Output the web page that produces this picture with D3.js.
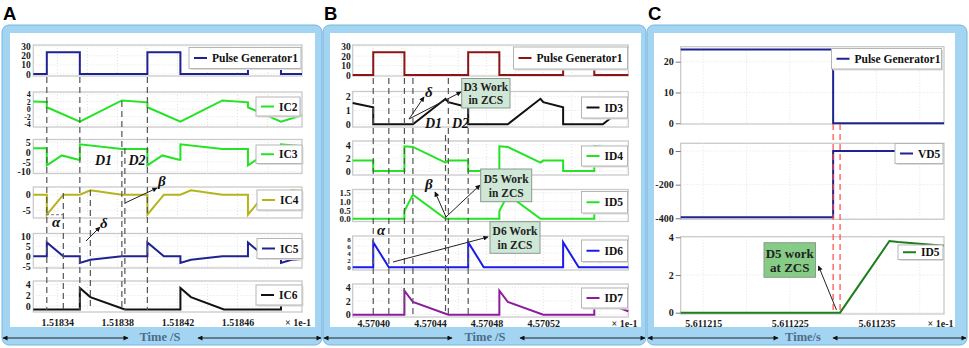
<!DOCTYPE html>
<html>
<head>
<meta charset="utf-8">
<script src="https://cdnjs.cloudflare.com/ajax/libs/d3/7.8.5/d3.min.js"></script>
<style>
  body { margin: 0; background: #fff; }
  svg { display: block; }
</style>
</head>
<body>
<div id="chart"></div>
<script>
// Time values are in units of 1e-1 s (axis shows "x 1e-1")

// ---- Panel A : capacitor currents ----
const ticksA = [1.51834, 1.51838, 1.51842, 1.51846];
const pulseA = [[1.518324,0],[1.518333,0],[1.518333,24],[1.518355,24],[1.518355,0],[1.5184,0],[1.5184,24],
  [1.518422,24],[1.518422,0],[1.518467,0],[1.518467,24],[1.518489,24],[1.518489,0],[1.518503,0]];
const ic2 = [[1.518324,2.0],[1.518333,1.9],[1.518333,0.5],[1.518355,-3.3],[1.518383,2.3],[1.5184,1.8],[1.5184,0.5],
  [1.518422,-3.3],[1.51845,2.3],[1.518467,1.8],[1.518467,0.5],[1.518489,-3.3],[1.518503,-1.6]];
const ic3 = [[1.518324,2.0],[1.518333,2.0],[1.518333,-6.8],[1.518343,-1.7],[1.518354,-3.9],[1.518355,-3.9],[1.518355,4.0],
  [1.518383,1.6],[1.5184,1.6],[1.5184,-6.8],[1.51841,-1.7],[1.518421,-3.9],[1.518422,-3.9],[1.518422,4.0],
  [1.51845,1.6],[1.518467,1.6],[1.518467,-6.8],[1.518477,-1.7],[1.518488,-3.9],[1.518489,-3.9],[1.518489,4.0],[1.518503,3.0]];
const ic4 = [[1.518324,0],[1.518333,0],[1.518333,-6.4],[1.518344,0],[1.518355,0],[1.518362,1.4],[1.518383,0],
  [1.5184,0],[1.5184,-6.4],[1.518411,0],[1.518422,0],[1.518429,1.4],[1.51845,0],
  [1.518467,0],[1.518467,-6.4],[1.518478,0],[1.518489,0],[1.518496,1.4],[1.518503,1.2]];
const ic5 = [[1.518324,0],[1.518333,0],[1.518333,6.9],[1.518344,0],[1.518355,0],[1.518355,-3.3],[1.518362,-1.7],[1.518383,0],
  [1.5184,0],[1.5184,6.9],[1.518411,0],[1.518422,0],[1.518422,-3.3],[1.518429,-1.7],[1.51845,0],
  [1.518467,0],[1.518467,6.9],[1.518478,0],[1.518489,0],[1.518489,-3.3],[1.518496,-1.7],[1.518503,-1.4]];
const ic6 = [[1.518324,-0.6],[1.518355,-0.6],[1.518355,3.4],[1.518362,1.7],[1.518385,-0.6],
  [1.518422,-0.6],[1.518422,3.4],[1.518429,1.7],[1.518451,-0.6],
  [1.518489,-0.6],[1.518489,3.4],[1.518496,1.7],[1.518503,1.2]];

// ---- Panel B : diode currents ----
const ticksB = [4.5704, 4.57044, 4.57048, 4.57052];
const pulseB = [[4.5703855,0],[4.5704,0],[4.5704,24],[4.570422,24],[4.570422,0],[4.570467,0],[4.570467,24],
  [4.570489,24],[4.570489,0],[4.570534,0],[4.570534,24],[4.570556,24],[4.570556,0],[4.57058,0]];
const id3 = [[4.5703855,1.55],[4.5704,1.23],[4.5704,0],[4.570428,0],[4.570451,1.85],[4.570453,1.6],[4.570467,1.23],[4.570467,0],
  [4.570495,0],[4.570518,1.85],[4.57052,1.6],[4.570534,1.23],[4.570534,0],[4.570562,0],[4.57058,1.45]];
const id4 = [[4.5703855,1.6],[4.5704,1.6],[4.5704,0],[4.570422,0],[4.570422,3.8],[4.570428,3.7],[4.570451,1.3],[4.570453,1.6],
  [4.570467,1.6],[4.570467,0],[4.570489,0],[4.570489,3.8],[4.570495,3.7],[4.570518,1.3],[4.57052,1.6],
  [4.570534,1.6],[4.570534,0],[4.570556,0],[4.570556,3.8],[4.57058,3.4]];
const id5 = [[4.5703855,0],[4.570422,0],[4.570422,0.45],[4.570428,1.4],[4.570451,0],[4.570489,0],[4.570489,0.45],
  [4.570495,1.4],[4.570518,0],[4.570556,0],[4.570556,0.45],[4.570562,1.4],[4.57058,0.3]];
const id6 = [[4.5703855,0],[4.5704,0],[4.5704,7.1],[4.570411,0],[4.570467,0],[4.570467,7.1],[4.570478,0],
  [4.570534,0],[4.570534,7.1],[4.570545,0],[4.57058,0]];
const id7 = [[4.5703855,0],[4.570422,0],[4.570422,3.5],[4.570428,1.85],[4.570453,0],[4.570489,0],[4.570489,3.5],
  [4.570495,1.85],[4.57052,0],[4.570556,0],[4.570556,3.5],[4.570562,1.85],[4.57058,0.5]];

// ---- Panel C : D5 turn-on detail ----
const ticksC = [5.611215, 5.611225, 5.611235];
const pulseC = [[5.6112124,24],[5.61123,24],[5.61123,0],[5.6112428,0]];
const vd5 = [[5.6112124,-394],[5.61123,-394],[5.61123,0],[5.6112428,0]];
const id5c = [[5.6112124,0],[5.6112308,0],[5.6112365,3.8],[5.6112375,3.75],[5.6112428,3.55]];

// y tick labels
const pulseTicks = [0, 10, 20, 30];
const ic2Ticks = [-4, -2, 0, 2, 4];
const ic3Ticks = [-10, -5, 0, 5];
const ic4Ticks = [-5, 0];
const ic5Ticks = [-5, 0, 5, 10];
const ic6Ticks = [0, 2, 4];
const id3Ticks = [0, 1, 2];
const id4Ticks = [0, 2, 4];
const id5Ticks = [0, 0.5, 1, 1.5];
const id6Ticks = [0, 2, 4, 6, 8];
const id7Ticks = [0, 2, 4];
const pulseCTicks = [0, 10, 20];
const vd5Ticks = [-400, -200, 0];
const id5cTicks = [0, 2, 4];

// ---------------- setup ----------------
const svgWidth = 969;
const svgHeight = 348;
const serif = "'Liberation Serif', 'Times New Roman', serif";
const navy = "#1f2391";
const green = "#24e324";

const svg = d3.select("#chart")
    .append("svg")
    .attr("width", svgWidth)
    .attr("height", svgHeight);

const defs = svg.append("defs");
defs.append("marker")
    .attr("id", "arr")
    .attr("viewBox", "0 0 10 10")
    .attr("refX", 9).attr("refY", 5)
    .attr("markerWidth", 7).attr("markerHeight", 5)
    .attr("markerUnits", "userSpaceOnUse")
    .attr("orient", "auto-start-reverse")
  .append("path")
    .attr("d", "M0,0L10,5L0,10z")
    .attr("fill", "#111");

const panels = [
  {
    letter: "A", frame: [2, 322], inner: [10, 315], plotX: [33.3, 302],
    xDomain: [1.518324, 1.518503], xTicks: ticksA, xFmt: d3.format(".5f"), xBase: 325.5,
    grid: d3.range(1.51834, 1.5185, 0.00002), tickLen: 0, tickPad: 2.5,
    unitX: 285, timeLabel: "Time /S", timeX: 160, arrows: [[3, 128], [198, 321]],
    plots: [
      {data: pulseA, name: "Pulse Generator1", color: navy, box: [45, 76], yDomain: [-2.2, 31.9], yTicks: pulseTicks, tickFont: 9.5, legend: [189, 47.5, 112, 21]},
      {data: ic2, name: "IC2", color: green, box: [92, 127], yDomain: [-4.7, 4.53], yTicks: ic2Ticks, tickFont: 8, legend: [256, 97, 44, 19]},
      {data: ic3, name: "IC3", color: green, box: [139.5, 173.5], yDomain: [-10.92, 6.43], yTicks: ic3Ticks, legend: [256, 145, 46, 18.5]},
      {data: ic4, name: "IC4", color: "#b4b41c", box: [187, 218], yDomain: [-7.47, 2.47], yTicks: ic4Ticks, legend: [257, 190, 45, 20]},
      {data: ic5, name: "IC5", color: navy, box: [233.5, 268], yDomain: [-5.85, 11.4], yTicks: ic5Ticks, legend: [257, 238.5, 45, 20]},
      {data: ic6, name: "IC6", color: "#111", box: [281, 312], yDomain: [-1.06, 4.69], yTicks: ic6Ticks, legend: [256, 285, 46, 20]}
    ],
    dashes: [
      {t: 1.518333, y0: 77, y1: 310}, {t: 1.518355, y0: 77, y1: 310}, {t: 1.5184, y0: 77, y1: 310},
      {t: 1.518344, y0: 193, y1: 310}, {t: 1.518362, y0: 190, y1: 310},
      {t: 1.518383, y0: 101, y1: 310}, {t: 1.518385, y0: 148, y1: 310}
    ],
    dashColor: "#555",
    labels: [
      {t: "D1", x: 95, y: 165, s: 14}, {t: "D2", x: 128.5, y: 165, s: 14},
      {t: "α", x: 52, y: 227, s: 15}, {t: "β", x: 158, y: 186, s: 15}, {t: "δ", x: 100, y: 228, s: 15}
    ],
    pointers: [[125, 203, 157, 188], [86, 241, 100, 227]],
    hdash: [[46, 214.7, 63.3, 214.7]],
    boxes: []
  },
  {
    letter: "B", frame: [323, 646], inner: [330, 641], plotX: [352.7, 628.3],
    xDomain: [4.5703855, 4.57058], xTicks: ticksB, xFmt: d3.format(".5f"), xBase: 326.5,
    grid: d3.range(4.5704, 4.57058, 0.00002), tickLen: 0, tickPad: 2,
    unitX: 611.5, timeLabel: "Time /S", timeX: 485, arrows: [[324, 452], [520, 645]],
    plots: [
      {data: pulseB, name: "Pulse Generator1", color: "#8c1414", box: [45, 76], yDomain: [-1.06, 31.8], yTicks: pulseTicks, tickFont: 9.5, legend: [513.5, 47, 114, 22]},
      {data: id3, name: "ID3", color: "#111", box: [91.5, 127], yDomain: [-0.2, 2.38], yTicks: id3Ticks, legend: [581.5, 97, 46, 21]},
      {data: id4, name: "ID4", color: green, box: [141, 175], yDomain: [-0.62, 4.62], yTicks: id4Ticks, legend: [581.5, 146, 46, 20]},
      {data: id5, name: "ID5", color: green, box: [189.5, 221.5], yDomain: [-0.16, 1.7], yTicks: id5Ticks, tickFont: 9, fmt: d3.format(".1f"), legend: [581.5, 191.5, 46, 21.5]},
      {data: id6, name: "ID6", color: "#1a1aee", box: [236, 270], yDomain: [-0.76, 8.85], yTicks: id6Ticks, tickFont: 7, legend: [581.5, 240, 46, 21.5]},
      {data: id7, name: "ID7", color: "#8c1c9c", box: [284, 317], yDomain: [-0.34, 4.48], yTicks: id7Ticks, legend: [581.5, 288, 46, 20]}
    ],
    dashes: [
      {t: 4.5704, y0: 78, y1: 315}, {t: 4.570411, y0: 78, y1: 315}, {t: 4.570422, y0: 78, y1: 315},
      {t: 4.570428, y0: 78, y1: 315}, {t: 4.570451, y0: 135, y1: 315}, {t: 4.570453, y0: 78, y1: 315},
      {t: 4.570467, y0: 78, y1: 315}
    ],
    dashColor: "#555",
    labels: [
      {t: "D1", x: 425, y: 128, s: 14}, {t: "D2", x: 452, y: 128, s: 14},
      {t: "δ", x: 425, y: 97, s: 15}, {t: "β", x: 425, y: 189, s: 15}, {t: "α", x: 377, y: 235, s: 15}
    ],
    pointers: [[409, 119, 424, 97], [409, 119, 461, 92], [446, 217, 435, 192], [446, 217, 480, 185], [393, 262, 488, 237]],
    hdash: [],
    boxes: [
      {x: 461.7, y: 78.5, w: 48.3, h: 29.5, lines: ["D3 Work", "in ZCS"], fill: "#cfe7d6", size: 11.5},
      {x: 480.7, y: 169, w: 51, h: 32.7, lines: ["D5 Work", "in ZCS"], fill: "#cfe7d6", size: 11.5},
      {x: 490, y: 221.7, w: 50, h: 31.6, lines: ["D6 Work", "in ZCS"], fill: "#cfe7d6", size: 11.5}
    ]
  },
  {
    letter: "C", frame: [647, 967], inner: [654, 955], plotX: [680.7, 944],
    xDomain: [5.6112124, 5.6112428], xTicks: ticksC, xFmt: d3.format(".6f"), xBase: 326.5,
    grid: d3.range(5.611215, 5.611243, 0.000005), tickLen: 5, tickPad: 2,
    unitX: 927.5, timeLabel: "Time/s", timeX: 803, arrows: [[648, 778], [833, 966]],
    plots: [
      {data: pulseC, name: "Pulse Generator1", color: navy, box: [46.7, 124], yDomain: [-0.23, 24.87], yTicks: pulseCTicks, legend: [831.5, 48.5, 110, 20.5]},
      {data: vd5, name: "VD5", color: navy, box: [143.3, 219.3], yDomain: [-406, 45.8], yTicks: vd5Ticks, legend: [895, 143.5, 48, 20]},
      {data: id5c, name: "ID5", color: "#1e7d1e", box: [236.7, 314], yDomain: [-0.07, 4.03], yTicks: id5cTicks, legend: [898, 245, 45, 14.5]}
    ],
    dashes: [{t: 5.61123, y0: 124, y1: 312}, {t: 5.6112308, y0: 124, y1: 312}],
    dashColor: "#ff4a4a",
    labels: [],
    pointers: [[836.5, 310, 818.5, 266]],
    hdash: [],
    boxes: [
      {x: 764, y: 242.7, w: 51.5, h: 34.6, lines: ["D5 work", "at ZCS"], fill: "#86cc86", size: 13}
    ]
  }
];

function drawPanel(p) {
  const g = svg.append("g");

  // blue frame with white drawing area
  g.append("rect")
      .attr("x", p.frame[0]).attr("y", 25)
      .attr("width", p.frame[1] - p.frame[0]).attr("height", 320)
      .attr("rx", 7)
      .attr("fill", "#a3d5f3")
      .attr("stroke", "#78b6e0");
  g.append("rect")
      .attr("x", p.inner[0]).attr("y", 33)
      .attr("width", p.inner[1] - p.inner[0]).attr("height", 294)
      .attr("fill", "#fff");
  g.append("text")
      .attr("x", p.frame[0] + 1).attr("y", 20)
      .attr("font-family", "'Liberation Sans', Arial, sans-serif")
      .attr("font-weight", "bold")
      .attr("font-size", 18.5)
      .text(p.letter);

  const x = d3.scaleLinear().domain(p.xDomain).range(p.plotX);

  const plotLayer = g.append("g");
  const dashLayer = g.append("g");
  const topLayer = g.append("g");

  p.plots.forEach(s => {
    const y = d3.scaleLinear().domain(s.yDomain).range([s.box[1], s.box[0]]);
    const pg = plotLayer.append("g");

    pg.append("rect")
        .attr("x", p.plotX[0]).attr("y", s.box[0])
        .attr("width", p.plotX[1] - p.plotX[0]).attr("height", s.box[1] - s.box[0])
        .attr("fill", "#fff")
        .attr("stroke", "#cacaca")
        .attr("stroke-width", 1.3);

    // dotted grid
    pg.selectAll(".vg").data(p.grid.filter(d => d > p.xDomain[0] && d < p.xDomain[1]))
      .join("line")
        .attr("x1", d => x(d)).attr("x2", d => x(d))
        .attr("y1", s.box[0]).attr("y2", s.box[1])
        .attr("stroke", "#e2e2e2").attr("stroke-dasharray", "1,2");
    pg.selectAll(".hg").data(s.yTicks)
      .join("line")
        .attr("x1", p.plotX[0]).attr("x2", p.plotX[1])
        .attr("y1", d => y(d)).attr("y2", d => y(d))
        .attr("stroke", "#e2e2e2").attr("stroke-dasharray", "1,2");

    // y axis
    const ax = pg.append("g")
        .attr("transform", `translate(${p.plotX[0]},0)`)
        .call(d3.axisLeft(y)
          .tickValues(s.yTicks)
          .tickSize(p.tickLen)
          .tickPadding(p.tickPad)
          .tickFormat(s.fmt || (d => String(d))));
    ax.select(".domain").remove();
    ax.selectAll("line").attr("stroke", "#777");
    ax.selectAll("text")
        .attr("font-family", serif)
        .attr("font-weight", "bold")
        .attr("font-size", s.tickFont || 10)
        .attr("fill", "#1a1a1a");

    // waveform
    pg.append("path")
        .datum(s.data)
        .attr("d", d3.line().x(d => x(d[0])).y(d => y(d[1])))
        .attr("fill", "none")
        .attr("stroke", s.color)
        .attr("stroke-width", 2);

    // legend
    const [lx, ly, lw, lh] = s.legend;
    topLayer.append("rect")
        .attr("x", lx + 1.5).attr("y", ly + 1.5)
        .attr("width", lw).attr("height", lh)
        .attr("fill", "#dcdcdc");
    topLayer.append("rect")
        .attr("x", lx).attr("y", ly)
        .attr("width", lw).attr("height", lh)
        .attr("fill", "#fff")
        .attr("stroke", "#b5b5b5");
    topLayer.append("line")
        .attr("x1", lx + 5).attr("x2", lx + 18)
        .attr("y1", ly + lh / 2).attr("y2", ly + lh / 2)
        .attr("stroke", s.color)
        .attr("stroke-width", 2);
    topLayer.append("text")
        .attr("x", lx + 23).attr("y", ly + lh / 2 + 4)
        .attr("font-family", serif)
        .attr("font-weight", "bold")
        .attr("font-size", 11.5)
        .attr("fill", "#111")
        .text(s.name);
  });

  // x axis tick labels
  const xa = g.append("g")
      .attr("transform", `translate(0,${p.xBase})`)
      .call(d3.axisBottom(x).tickValues(p.xTicks).tickSize(0).tickFormat(p.xFmt));
  xa.select(".domain").remove();
  xa.selectAll("text")
      .attr("y", 0).attr("dy", 0)
      .attr("font-family", serif)
      .attr("font-weight", "bold")
      .attr("font-size", 10)
      .attr("fill", "#1a1a1a");
  g.append("text")
      .attr("x", p.unitX).attr("y", p.xBase)
      .attr("font-family", serif)
      .attr("font-weight", "bold")
      .attr("font-size", 10)
      .attr("fill", "#1a1a1a")
      .text("× 1e-1");

  // vertical dashed guide lines
  p.dashes.forEach(d => {
    dashLayer.append("line")
        .attr("x1", x(d.t)).attr("x2", x(d.t))
        .attr("y1", d.y0).attr("y2", d.y1)
        .attr("stroke", p.dashColor)
        .attr("stroke-width", 1.2)
        .attr("stroke-dasharray", "6,4");
  });
  p.hdash.forEach(d => {
    dashLayer.append("line")
        .attr("x1", d[0]).attr("y1", d[1]).attr("x2", d[2]).attr("y2", d[3])
        .attr("stroke", "#777")
        .attr("stroke-dasharray", "3,2");
  });

  // annotation arrows, boxes and greek labels
  p.pointers.forEach(a => {
    topLayer.append("line")
        .attr("x1", a[0]).attr("y1", a[1]).attr("x2", a[2]).attr("y2", a[3])
        .attr("stroke", "#222")
        .attr("stroke-width", 1)
        .attr("marker-end", "url(#arr)");
  });
  p.boxes.forEach(b => {
    topLayer.append("rect")
        .attr("x", b.x).attr("y", b.y)
        .attr("width", b.w).attr("height", b.h)
        .attr("fill", b.fill)
        .attr("stroke", "#8a9a8f");
    b.lines.forEach((t, i) => {
      topLayer.append("text")
          .attr("x", b.x + b.w / 2)
          .attr("y", b.y + b.h * (i === 0 ? 0.43 : 0.86))
          .attr("text-anchor", "middle")
          .attr("font-family", serif)
          .attr("font-weight", "bold")
          .attr("font-size", b.size)
          .attr("fill", "#222")
          .text(t);
    });
  });
  p.labels.forEach(l => {
    topLayer.append("text")
        .attr("x", l.x).attr("y", l.y)
        .attr("font-family", serif)
        .attr("font-weight", "bold")
        .attr("font-style", "italic")
        .attr("font-size", l.s)
        .attr("fill", "#111")
        .text(l.t);
  });

  // bottom strip: time label between two double-headed arrows
  p.arrows.forEach(a => {
    g.append("line")
        .attr("x1", a[0]).attr("x2", a[1])
        .attr("y1", 338).attr("y2", 338)
        .attr("stroke", "#222")
        .attr("marker-start", "url(#arr)")
        .attr("marker-end", "url(#arr)");
  });
  g.append("text")
      .attr("x", p.timeX).attr("y", 341)
      .attr("text-anchor", "middle")
      .attr("font-family", serif)
      .attr("font-weight", "bold")
      .attr("font-size", 12.5)
      .attr("fill", "#4e6c8b")
      .text(p.timeLabel);
}

panels.forEach(drawPanel);
</script>
</body>
</html>
